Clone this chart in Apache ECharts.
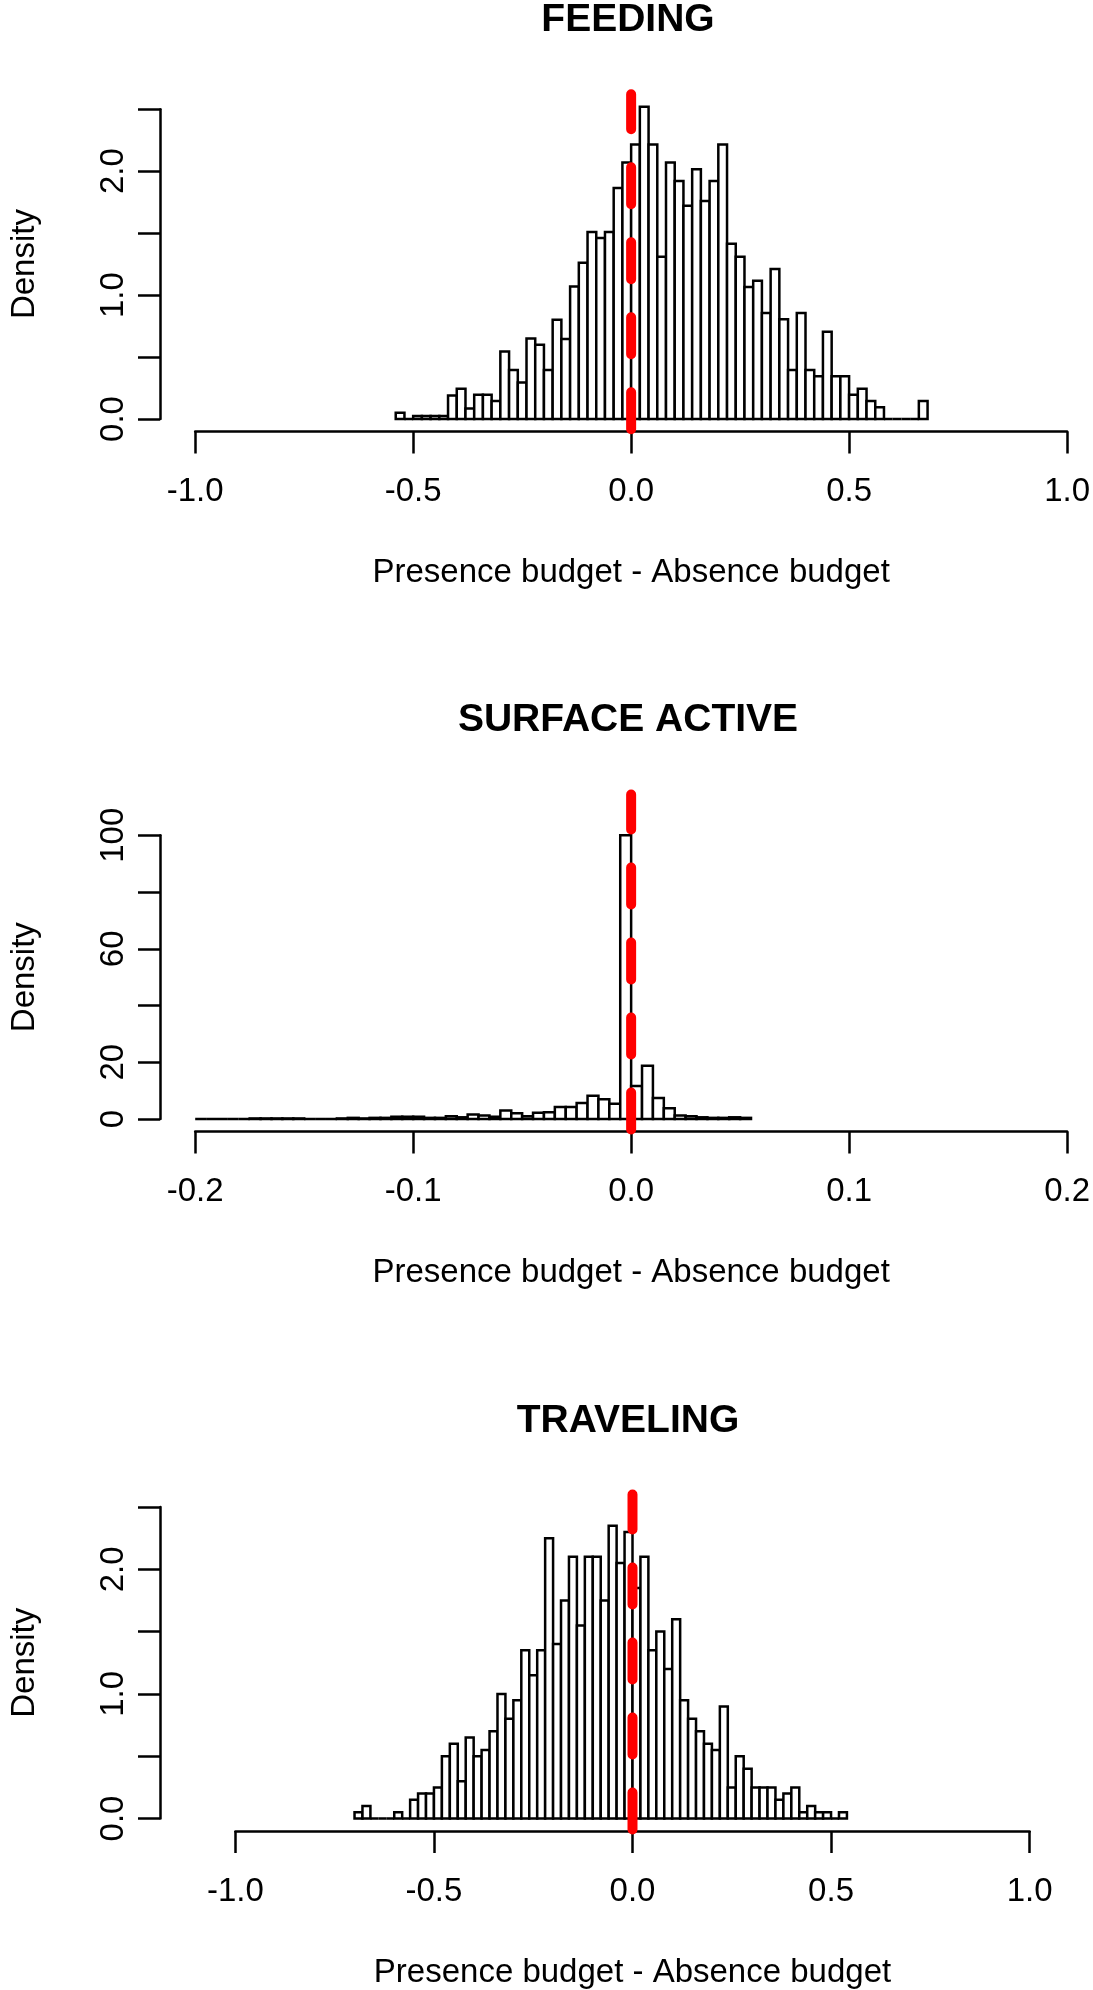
<!DOCTYPE html>
<html>
<head>
<meta charset="utf-8">
<title>Presence budget - Absence budget</title>
<script src="https://cdn.jsdelivr.net/npm/echarts@6/dist/echarts.min.js"></script>
<style>
html,body{margin:0;padding:0;background:#fff;}
#main{width:1093px;height:1990px;}
</style>
</head>
<body>
<div id="main"></div>
<script>
/* FEEDING : bins of 0.02 starting at -0.54 */
var feedStart = -0.54;
var feedWidth = 0.02;
var feedDensity = [0.05, 0, 0.025, 0.025, 0.025, 0.025, 0.19, 0.245, 0.085, 0.195,
	0.195, 0.145, 0.545, 0.395, 0.295, 0.65, 0.6, 0.395, 0.8, 0.645,
	1.07, 1.26, 1.51, 1.46, 1.51, 1.865, 2.07, 2.215, 2.52, 2.215,
	1.31, 2.07, 1.92, 1.72, 2.015, 1.76, 1.92, 2.215, 1.415, 1.31,
	1.065, 1.115, 0.855, 1.21, 0.805, 0.395, 0.855, 0.395, 0.345, 0.705,
	0.345, 0.345, 0.195, 0.245, 0.145, 0.095, 0, 0, 0, 0, 0.145];

/* SURFACE ACTIVE : bins of 0.005 starting at -0.2 */
var surfStart = -0.2;
var surfWidth = 0.005;
var surfDensity = [0, 0, 0, 0, 0, 0.2, 0.2, 0.2, 0.2, 0.2,
	0, 0, 0, 0.2, 0.4, 0.2, 0.4, 0.4, 0.8, 0.8,
	0.8, 0.4, 0.4, 1.0, 0.6, 1.6, 1.2, 0.8, 3.0, 2.0,
	1.0, 2.2, 2.4, 4.2, 4.2, 5.6, 8.2, 7.0, 5.4, 100,
	11.6, 18.8, 7.4, 3.8, 1.2, 1.0, 0.6, 0.4, 0.4, 0.6, 0.4];

/* TRAVELING : bins of 0.02 starting at -0.70 */
var travStart = -0.70;
var travWidth = 0.02;
var travDensity = [0.05, 0.1, 0, 0, 0, 0.05, 0, 0.15, 0.2, 0.2,
	0.25, 0.5, 0.6, 0.3, 0.65, 0.5, 0.55, 0.7, 1.0, 0.8,
	0.95, 1.35, 1.15, 1.35, 2.25, 1.4, 1.75, 2.1, 1.55, 2.1,
	2.1, 1.75, 2.35, 2.05, 2.3, 1.85, 2.1, 1.35, 1.5, 1.2,
	1.6, 0.95, 0.8, 0.7, 0.6, 0.55, 0.9, 0.25, 0.5, 0.4,
	0.25, 0.25, 0.25, 0.15, 0.2, 0.25, 0.05, 0.1, 0.05, 0.05,
	0, 0.05];

/* tick labels that R kept (the others were dropped for overlap) */
var budgetYLabels = [0, 1, 2];
var surfYLabels = [0, 20, 60, 100];

var FONT = '"Liberation Sans", Arial, Helvetica, sans-serif';

function toBins(start, width, dens){
	var out = [];
	for(var i = 0; i < dens.length; i++){
		var a = +(start + i * width).toFixed(4);
		var b = +(start + (i + 1) * width).toFixed(4);
		out.push([a, b, dens[i]]);
	}
	return out;
}

/*one histogram cell, white with black border*/
function drawBin(params, api){
	var tl = api.coord([api.value(0), api.value(2)]);
	var br = api.coord([api.value(1), 0]);
	return {
		type : 'rect',
		shape : {x: tl[0], y: tl[1], width: br[0] - tl[0], height: br[1] - tl[1]},
		style : {fill: '#fff', stroke: '#000', lineWidth: 2.5}
	};
}

function fix0(v){
	if(Math.abs(v) < 1e-9){ v = 0; }
	return v;
}

var panels = [
	{title: 'FEEDING', titleTop: 1, left: 185.5, width: 885, top: 109.2, height: 309.8,
	 axisX: 150.3, xMin: -1, xMax: 1, xStep: 0.5, yMax: 2.5, yStep: 0.5,
	 yLabels: budgetYLabels, yDigits: 1, span: [-0.1, 2.62],
	 bins: toBins(feedStart, feedWidth, feedDensity)},
	{title: 'SURFACE ACTIVE', titleTop: 701, left: 185.5, width: 885, top: 835.3, height: 283.7,
	 axisX: 150.3, xMin: -0.2, xMax: 0.2, xStep: 0.1, yMax: 100, yStep: 20,
	 yLabels: surfYLabels, yDigits: 0, span: [-4.4, 114.4],
	 bins: toBins(surfStart, surfWidth, surfDensity)},
	{title: 'TRAVELING', titleTop: 1401.5, left: 226.4, width: 803.2, top: 1507, height: 311.7,
	 axisX: 151, xMin: -1, xMax: 1, xStep: 0.5, yMax: 2.5, yStep: 0.5,
	 yLabels: budgetYLabels, yDigits: 1, span: [-0.1, 2.6],
	 bins: toBins(travStart, travWidth, travDensity)}
];

var titles = [], grids = [], xAxes = [], yAxes = [], series = [];

panels.forEach(function(p, i){
	var xOff = -p.span[0] / p.yMax * p.height;
	titles.push({
		text: p.title, left: 628, top: p.titleTop, textAlign: 'center', padding: 0,
		textStyle: {fontSize: 39, fontWeight: 'bold', color: '#000', fontFamily: FONT}
	});
	grids.push({left: p.left, top: p.top, width: p.width, height: p.height});
	xAxes.push({
		type: 'value', gridIndex: i, min: p.xMin, max: p.xMax, interval: p.xStep,
		position: 'bottom', offset: xOff,
		name: 'Presence budget - Absence budget', nameLocation: 'middle', nameGap: 125,
		nameTextStyle: {fontSize: 33, color: '#000', fontFamily: FONT},
		axisLine: {show: true, onZero: false, lineStyle: {color: '#000', width: 2.5}},
		axisTick: {show: true, length: 22, lineStyle: {color: '#000', width: 2.5}},
		axisLabel: {margin: 44, fontSize: 33, color: '#000', fontFamily: FONT,
			formatter: function(v){ return fix0(v).toFixed(1); }},
		splitLine: {show: false}
	});
	yAxes.push({
		type: 'value', gridIndex: i, min: 0, max: p.yMax, interval: p.yStep,
		position: 'left', offset: p.left - p.axisX,
		name: 'Density', nameLocation: 'middle', nameGap: 119, nameRotate: 90,
		nameTextStyle: {fontSize: 33, color: '#000', fontFamily: FONT},
		axisLine: {show: true, onZero: false, lineStyle: {color: '#000', width: 2.5}},
		axisTick: {show: true, length: 22, lineStyle: {color: '#000', width: 2.5}},
		axisLabel: {margin: 30, rotate: 90, fontSize: 33, color: '#000', fontFamily: FONT,
			formatter: function(v){
				v = fix0(v);
				for(var k = 0; k < p.yLabels.length; k++){
					if(Math.abs(p.yLabels[k] - v) < 1e-6){ return v.toFixed(p.yDigits); }
				}
				return '';
			}},
		splitLine: {show: false}
	});
	series.push({
		type: 'custom', xAxisIndex: i, yAxisIndex: i,
		renderItem: drawBin, data: p.bins, encode: {x: [0, 1], y: 2},
		clip: false, silent: true
	});
	/*red dashed line at 0 over the whole plot region*/
	series.push({
		type: 'line', xAxisIndex: i, yAxisIndex: i,
		data: [[0, p.span[1]], [0, p.span[0]]],
		symbol: 'none', clip: false, silent: true, z: 5,
		lineStyle: {color: '#ff0000', width: 10, type: [37, 38], dashOffset: 2, cap: 'round'}
	});
});

var myChart = echarts.init(document.getElementById('main'), null, {renderer: 'canvas'});
myChart.setOption({
	animation: false,
	backgroundColor: '#fff',
	title: titles,
	grid: grids,
	xAxis: xAxes,
	yAxis: yAxes,
	series: series
});
</script>
</body>
</html>
